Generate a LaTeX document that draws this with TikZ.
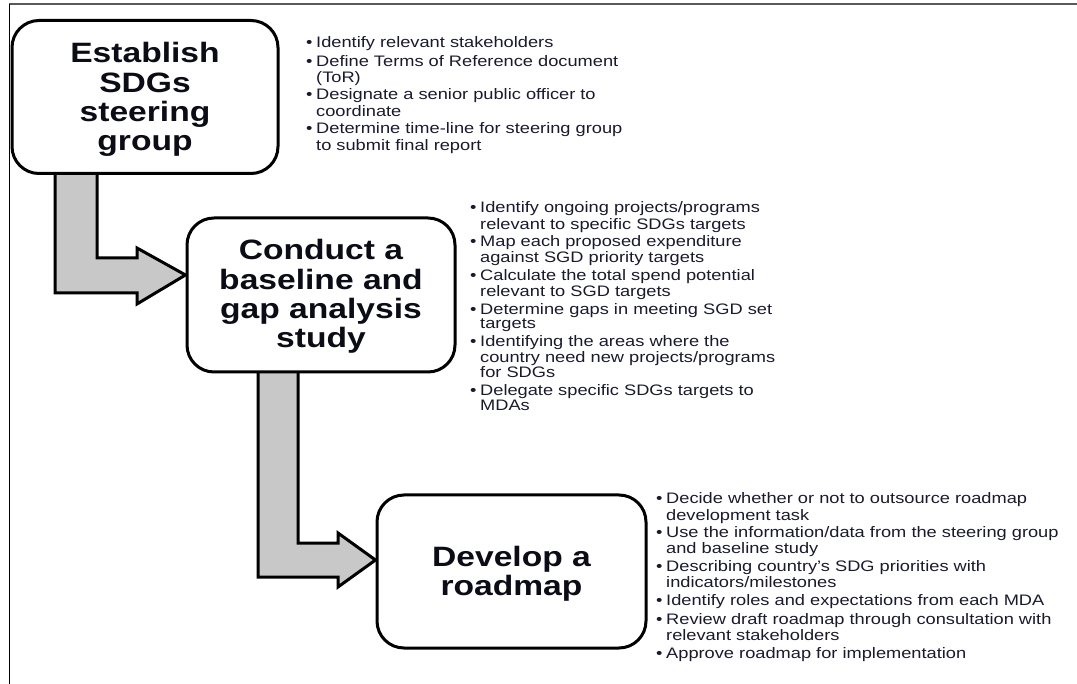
\documentclass[tikz,border=0pt]{standalone}
\usepackage{fontspec}
\setmainfont{Liberation Sans}[FakeStretch=1.2]
\usetikzlibrary{calc,backgrounds}
\definecolor{arrowgray}{RGB}{200,200,200}
\definecolor{txtnavy}{RGB}{26,26,46}
\definecolor{titleink}{RGB}{12,12,22}
\definecolor{framegray}{RGB}{90,90,90}
\newcommand\bitem[1]{\par\hangindent=10pt\hangafter=1\noindent\strut\makebox[10pt][l]{\textbullet}#1\par}
\begin{document}
\begin{tikzpicture}[x=1pt,y=-1pt,
  stepbox/.style={draw=black, line width=3pt, fill=white, rounded corners=27pt,
    inner sep=0pt},
  steptext/.style={text=titleink, align=center, inner sep=0pt,
    font=\fontsize{28}{29.2}\selectfont\bfseries},
  bullets/.style={anchor=north west, inner sep=0pt, text width=412pt, text=txtnavy,
    font=\fontsize{15.2}{14.8}\selectfont},
  blockarrow/.style={draw=black, fill=arrowgray, line width=3pt, line join=miter}]
\useasboundingbox (0,0) rectangle (1077,684);
% frame
\draw[framegray, line width=2pt] (9,4.5) -- (1077,4.5);
\draw[black, line width=1.2pt] (9.5,4) -- (9.5,684);
% boxes
\node[stepbox, minimum width=266pt, minimum height=153pt] (b1) at (145,97) {};
\node[steptext] (t1) at (145,99.5) {Establish\\SDGs\\steering\\group};
\node[stepbox, minimum width=268pt, minimum height=154pt] (b2) at (321,295) {};
\node[steptext] (t2) at (321,296.5) {Conduct a\\baseline and\\gap analysis\\study};
\node[stepbox, minimum width=269pt, minimum height=153pt] (b3) at (511.5,571.5) {};
\node[steptext] (t3) at (511.5,574) {Develop a\\roadmap};
% helper coordinates
\coordinate (a1l) at (55,0);   \coordinate (a1r) at (97,0);
\coordinate (a1t) at (0,275);
\coordinate (a2l) at (258,0);  \coordinate (a2r) at (298,0);
\coordinate (a2t) at (0,560);
% arrows
\begin{scope}[on background layer]
\draw[blockarrow] ($(b1.south -| a1l)+(0,-4)$) -- (55,293) -- (137,293) -- (137,304)
  -- (b2.west |- a1t) -- (137,248) -- (137,258) -- (97,258)
  -- ($(b1.south -| a1r)+(0,-4)$) -- cycle;
\draw[blockarrow] ($(b2.south -| a2l)+(0,-4)$) -- (258,577) -- (338,577) -- (338,587)
  -- (b3.west |- a2t) -- (338,533) -- (338,543) -- (298,543)
  -- ($(b2.south -| a2r)+(0,-4)$) -- cycle;
\end{scope}
% bullet lists
\node[bullets] (l1) at (306,30) {\setlength\parskip{2.4pt}\raggedright
  \bitem{Identify relevant stakeholders}
  \bitem{Define Terms of Reference document\newline (ToR)}
  \bitem{Designate a senior public officer to\newline coordinate}
  \bitem{Determine time-line for steering group\newline to submit final report}};
\node[bullets] (l2) at (470,195) {\setlength\parskip{2.6pt}\raggedright
  \bitem{Identify ongoing projects/programs\newline relevant to specific SDGs targets}
  \bitem{Map each proposed expenditure\newline against SGD priority targets}
  \bitem{Calculate the total spend potential\newline relevant to SGD targets}
  \bitem{Determine gaps in meeting SGD set\newline targets}
  \bitem{Identifying the areas where the\newline country need new projects/programs\newline for SDGs}
  \bitem{Delegate specific SDGs targets to\newline MDAs}};
\node[bullets] (l3) at (656,486) {\setlength\parskip{2.6pt}\raggedright
  \bitem{Decide whether or not to outsource roadmap\newline development task}
  \bitem{Use the information/data from the steering group\newline and baseline study}
  \bitem{Describing country's SDG priorities with\newline indicators/milestones}
  \bitem{Identify roles and expectations from each MDA}
  \bitem{Review draft roadmap through consultation with\newline relevant stakeholders}
  \bitem{Approve roadmap for implementation}};
\end{tikzpicture}
\end{document}
